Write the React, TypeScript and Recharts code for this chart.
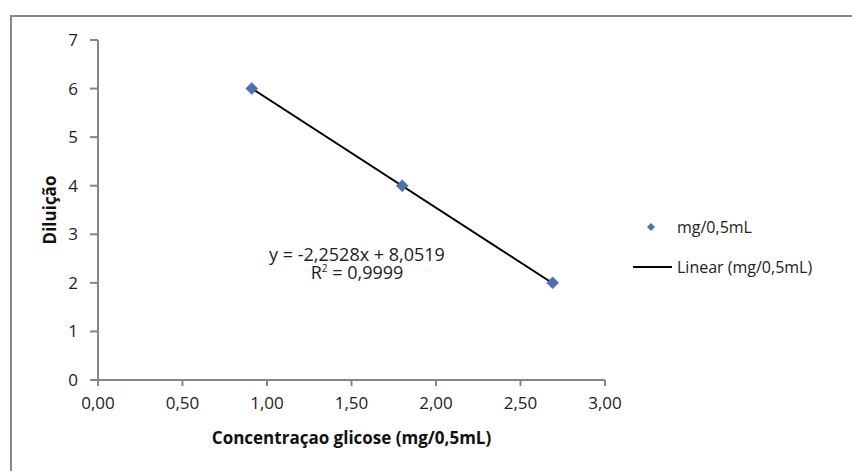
import React from "react";
import {
  ScatterChart,
  Scatter,
  XAxis,
  YAxis,
  Label,
} from "recharts";

// valores
const concentracao = [0.91, 1.8, 2.69];
const diluicao = [6, 4, 2];
const xTicks = [0, 0.5, 1, 1.5, 2, 2.5, 3];
const yTicks = [0, 1, 2, 3, 4, 5, 6, 7];

// linha de tendência (equação mostrada no gráfico)
const slope = -2.2528;
const intercept = 8.0519;

const pontos = concentracao.map((x, i) => ({ x, y: diluicao[i] }));
const xMin = Math.min(...concentracao);
const xMax = Math.max(...concentracao);
const tendencia = [xMin, xMax].map((x) => ({ x, y: slope * x + intercept }));

const FONT = "'Open Sans', sans-serif";
const AXIS = "#868686";
const BLUE = "#4f6fb0";

const Diamond = (props: any) => {
  const { cx, cy } = props;
  const r = 6;
  return (
    <polygon
      points={`${cx},${cy - r} ${cx + r},${cy} ${cx},${cy + r} ${cx - r},${cy}`}
      fill={BLUE}
      stroke="#46639e"
      strokeWidth={0.5}
    />
  );
};

const fmt = (v: number) => v.toFixed(2).replace(".", ",");

const LegendBox = () => (
  <div style={{ position: "absolute", left: 630, top: 217, fontFamily: FONT, fontSize: 16, color: "#222" }}>
    <div style={{ display: "flex", alignItems: "center", height: 20 }}>
      <svg width={47} height={20}>
        <polygon points="21,6 25,10 21,14 17,10" fill={BLUE} />
      </svg>
      <span>mg/0,5mL</span>
    </div>
    <div style={{ display: "flex", alignItems: "center", height: 20, marginTop: 20 }}>
      <svg width={47} height={20}>
        <line x1={3} y1={10} x2={42} y2={10} stroke="#000" strokeWidth={2} />
      </svg>
      <span>Linear (mg/0,5mL)</span>
    </div>
  </div>
);

export default function App() {
  return (
    <div style={{ position: "absolute", left: 0, top: 0, width: 852, height: 471, background: "#fff", overflow: "hidden" }}>
      <div
        style={{
          position: "absolute",
          left: 10,
          top: 15,
          width: 860,
          height: 480,
          borderLeft: "2px solid #888",
          borderTop: "2px solid #888",
        }}
      />
      <ScatterChart
        width={852}
        height={471}
        margin={{ top: 40, right: 247, bottom: 61, left: 58 }}
        style={{ position: "absolute", left: 0, top: 0 }}
      >
        <XAxis
          type="number"
          dataKey="x"
          domain={[0, 3]}
          ticks={xTicks}
          tickFormatter={fmt}
          height={30}
          stroke={AXIS}
          strokeWidth={2}
          tickSize={6}
          tickMargin={11}
          tick={{ fill: "#222", fontSize: 17, fontFamily: FONT }}
        >
          <Label
            value="Concentraçao glicose (mg/0,5mL)"
            position="bottom"
            offset={22}
            style={{ fill: "#111", fontSize: 17, fontWeight: 700, fontFamily: FONT }}
          />
        </XAxis>
        <YAxis
          type="number"
          dataKey="y"
          domain={[0, 7]}
          ticks={yTicks}
          width={40}
          stroke={AXIS}
          strokeWidth={2}
          tickSize={8}
          tickMargin={12}
          tick={{ fill: "#222", fontSize: 17, fontFamily: FONT }}
        >
          <Label
            value="Diluição"
            angle={-90}
            position="insideLeft"
            offset={-8}
            style={{ fill: "#111", fontSize: 17, fontWeight: 700, fontFamily: FONT, textAnchor: "middle" }}
          />
        </YAxis>
        <Scatter
          data={tendencia}
          line={{ stroke: "#000", strokeWidth: 2 }}
          shape={() => <g />}
          legendType="none"
          isAnimationActive={false}
        />
        <Scatter data={pontos} shape={<Diamond />} isAnimationActive={false} />
      </ScatterChart>
      <LegendBox />
      <div
        style={{
          position: "absolute",
          left: 237,
          top: 245,
          width: 240,
          textAlign: "center",
          fontFamily: FONT,
          fontSize: 18,
          lineHeight: "18px",
          color: "#222",
        }}
      >
        <div>y = -2,2528x + 8,0519</div>
        <div>
          R<sup style={{ fontSize: 10, verticalAlign: "top", lineHeight: "10px" }}>2</sup> = 0,9999
        </div>
      </div>
    </div>
  );
}
